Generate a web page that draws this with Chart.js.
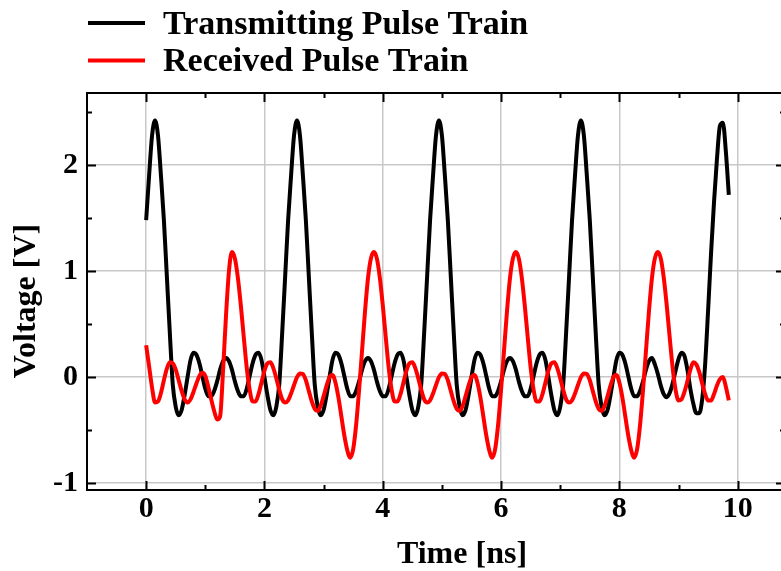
<!DOCTYPE html>
<html>
<head>
<meta charset="utf-8">
<title>Pulse trains</title>
<script src="https://cdn.jsdelivr.net/npm/chart.js@4.4.1/dist/chart.umd.min.js"></script>
<style>
    html, body { margin: 0; padding: 0; background: #fff; overflow: hidden; }
    #wrap { width: 790px; height: 571px; }
</style>
</head>
<body>
<div id="wrap"><canvas id="pulseChart" width="790" height="571"></canvas></div>
<script>
// sample times [ns], 0.05 ns apart
var timeNs = [
    0.00, 0.05, 0.10, 0.15, 0.20, 0.25, 0.30, 0.35, 0.40, 0.45,
    0.50, 0.55, 0.60, 0.65, 0.70, 0.75, 0.80, 0.85, 0.90, 0.95,
    1.00, 1.05, 1.10, 1.15, 1.20, 1.25, 1.30, 1.35, 1.40, 1.45,
    1.50, 1.55, 1.60, 1.65, 1.70, 1.75, 1.80, 1.85, 1.90, 1.95,
    2.00, 2.05, 2.10, 2.15, 2.20, 2.25, 2.30, 2.35, 2.40, 2.45,
    2.50, 2.55, 2.60, 2.65, 2.70, 2.75, 2.80, 2.85, 2.90, 2.95,
    3.00, 3.05, 3.10, 3.15, 3.20, 3.25, 3.30, 3.35, 3.40, 3.45,
    3.50, 3.55, 3.60, 3.65, 3.70, 3.75, 3.80, 3.85, 3.90, 3.95,
    4.00, 4.05, 4.10, 4.15, 4.20, 4.25, 4.30, 4.35, 4.40, 4.45,
    4.50, 4.55, 4.60, 4.65, 4.70, 4.75, 4.80, 4.85, 4.90, 4.95,
    5.00, 5.05, 5.10, 5.15, 5.20, 5.25, 5.30, 5.35, 5.40, 5.45,
    5.50, 5.55, 5.60, 5.65, 5.70, 5.75, 5.80, 5.85, 5.90, 5.95,
    6.00, 6.05, 6.10, 6.15, 6.20, 6.25, 6.30, 6.35, 6.40, 6.45,
    6.50, 6.55, 6.60, 6.65, 6.70, 6.75, 6.80, 6.85, 6.90, 6.95,
    7.00, 7.05, 7.10, 7.15, 7.20, 7.25, 7.30, 7.35, 7.40, 7.45,
    7.50, 7.55, 7.60, 7.65, 7.70, 7.75, 7.80, 7.85, 7.90, 7.95,
    8.00, 8.05, 8.10, 8.15, 8.20, 8.25, 8.30, 8.35, 8.40, 8.45,
    8.50, 8.55, 8.60, 8.65, 8.70, 8.75, 8.80, 8.85, 8.90, 8.95,
    9.00, 9.05, 9.10, 9.15, 9.20, 9.25, 9.30, 9.35, 9.40, 9.45,
    9.50, 9.55, 9.60, 9.65, 9.70, 9.75, 9.80, 9.85
];

// transmitted voltage [V]
var txVolts = [
    1.48, 1.90, 2.28, 2.42, 2.28, 1.90, 1.48, 0.95, 0.42, -0.07,
    -0.28, -0.36, -0.31, -0.17, 0.00, 0.16, 0.23, 0.21, 0.13, 0.01,
    -0.11, -0.18, -0.18, -0.13, -0.04, 0.07, 0.15, 0.18, 0.15, 0.07,
    -0.04, -0.13, -0.18, -0.18, -0.11, 0.01, 0.13, 0.21, 0.23, 0.16,
    0.00, -0.17, -0.31, -0.36, -0.28, -0.07, 0.42, 0.95, 1.48, 1.90,
    2.28, 2.42, 2.28, 1.90, 1.48, 0.95, 0.42, -0.07, -0.28, -0.36,
    -0.31, -0.17, 0.00, 0.16, 0.23, 0.21, 0.13, 0.01, -0.11, -0.18,
    -0.18, -0.13, -0.04, 0.07, 0.15, 0.18, 0.15, 0.07, -0.04, -0.13,
    -0.18, -0.18, -0.11, 0.01, 0.13, 0.21, 0.23, 0.16, 0.00, -0.17,
    -0.31, -0.36, -0.28, -0.07, 0.42, 0.95, 1.48, 1.90, 2.28, 2.42,
    2.28, 1.90, 1.48, 0.95, 0.42, -0.07, -0.28, -0.36, -0.31, -0.17,
    0.00, 0.16, 0.23, 0.21, 0.13, 0.01, -0.11, -0.18, -0.18, -0.13,
    -0.04, 0.07, 0.15, 0.18, 0.15, 0.07, -0.04, -0.13, -0.18, -0.18,
    -0.11, 0.01, 0.13, 0.21, 0.23, 0.16, 0.00, -0.17, -0.31, -0.36,
    -0.28, -0.07, 0.42, 0.95, 1.48, 1.90, 2.28, 2.42, 2.28, 1.90,
    1.48, 0.95, 0.42, -0.07, -0.28, -0.36, -0.31, -0.17, 0.00, 0.16,
    0.23, 0.21, 0.13, 0.01, -0.11, -0.18, -0.18, -0.13, -0.04, 0.07,
    0.15, 0.18, 0.12, 0.03, -0.08, -0.16, -0.19, -0.15, -0.06, 0.06,
    0.17, 0.23, 0.20, 0.07, -0.11, -0.25, -0.34, -0.34, -0.21, 0.12,
    0.63, 1.17, 1.65, 2.06, 2.37, 2.40, 2.13, 1.72
];

// received voltage [V]
var rxVolts = [
    0.30, 0.10, -0.10, -0.24, -0.23, -0.15, -0.03, 0.08, 0.14, 0.13,
    0.07, -0.03, -0.13, -0.21, -0.24, -0.21, -0.14, -0.06, 0.01, 0.04,
    0.01, -0.09, -0.21, -0.32, -0.40, -0.37, 0.06, 0.58, 1.00, 1.18,
    1.12, 0.94, 0.68, 0.38, 0.09, -0.12, -0.23, -0.23, -0.16, -0.05,
    0.06, 0.13, 0.14, 0.085, -0.01, -0.12, -0.21, -0.24, -0.22, -0.155,
    -0.075, 0.00, 0.035, 0.03, -0.03, -0.13, -0.23, -0.30, -0.32, -0.27,
    -0.18, -0.08, 0.00, 0.02, -0.05, -0.19, -0.37, -0.55, -0.69, -0.76,
    -0.68, -0.45, -0.12, 0.25, 0.62, 0.93, 1.12, 1.18, 1.12, 0.94,
    0.68, 0.38, 0.09, -0.12, -0.23, -0.23, -0.16, -0.05, 0.06, 0.13,
    0.14, 0.085, -0.01, -0.12, -0.21, -0.24, -0.22, -0.155, -0.075, 0.00,
    0.035, 0.03, -0.03, -0.13, -0.23, -0.30, -0.32, -0.27, -0.18, -0.08,
    0.00, 0.02, -0.05, -0.19, -0.37, -0.55, -0.69, -0.76, -0.68, -0.45,
    -0.12, 0.25, 0.62, 0.93, 1.12, 1.18, 1.12, 0.94, 0.68, 0.38,
    0.09, -0.12, -0.23, -0.23, -0.16, -0.05, 0.06, 0.13, 0.14, 0.085,
    -0.01, -0.12, -0.21, -0.24, -0.22, -0.155, -0.075, 0.00, 0.035, 0.03,
    -0.03, -0.13, -0.23, -0.30, -0.32, -0.27, -0.18, -0.08, 0.00, 0.02,
    -0.05, -0.19, -0.37, -0.55, -0.69, -0.76, -0.68, -0.45, -0.12, 0.25,
    0.62, 0.93, 1.12, 1.18, 1.12, 0.94, 0.68, 0.38, 0.09, -0.12,
    -0.22, -0.21, -0.14, -0.04, 0.07, 0.14, 0.12, 0.05, -0.06, -0.16,
    -0.22, -0.22, -0.16, -0.08, -0.02, 0.00, -0.09, -0.22
];

var seriesNames = ['Transmitting Pulse Train', 'Received Pulse Train'];
var xTickValues = [0, 2, 4, 6, 8, 10];
var xMinorValues = [1, 3, 5, 7, 9];
var yTickValues = [-1, 0, 1, 2];
var yMinorValues = [-0.5, 0.5, 1.5, 2.5];
var xTitle = 'Time [ns]';
var yTitle = 'Voltage [V]';

var SERIF = '"Liberation Serif", "Times New Roman", serif';

function toPoints(vals) {
    return vals.map((v, i) => ({ x: timeNs[i], y: v }));
}

// frame, inward ticks on all sides, legend and axis titles
var decorPlugin = {
    id: 'decor',
    afterDraw(chart) {
        var ctx = chart.ctx;
        var a = chart.chartArea;
        var xs = chart.scales.x, ys = chart.scales.y;
        ctx.save();
        ctx.strokeStyle = '#000';
        ctx.lineWidth = 2;
        ctx.lineCap = 'butt';

        function seg(x1, y1, x2, y2) {
            ctx.beginPath();
            ctx.moveTo(x1, y1);
            ctx.lineTo(x2, y2);
            ctx.stroke();
        }

        function xTicks(vals, len) {
            vals.forEach(v => {
                var px = Math.round(xs.getPixelForValue(v)) + 0.5;
                seg(px, a.bottom, px, a.bottom - len);
                seg(px, a.top, px, a.top + len);
            });
        }
        function yTicks(vals, len) {
            vals.forEach(v => {
                var py = Math.round(ys.getPixelForValue(v)) + 0.5;
                seg(a.left, py, a.left + len, py);
                seg(a.right, py, a.right - len, py);
            });
        }
        xTicks(xTickValues, 9);
        xTicks(xMinorValues, 5);
        yTicks(yTickValues, 9);
        yTicks(yMinorValues, 5);

        ctx.strokeRect(a.left, a.top, a.right - a.left, a.bottom - a.top);

        // legend
        ctx.font = 'bold 34px ' + SERIF;
        ctx.textAlign = 'left';
        ctx.textBaseline = 'alphabetic';
        chart.data.datasets.forEach((ds, i) => {
            var ly = 23 + i * 37.5;
            ctx.strokeStyle = ds.borderColor;
            ctx.lineWidth = 4;
            seg(88, ly, 145, ly);
            ctx.fillStyle = '#000';
            ctx.fillText(ds.label, 163, ly + 10.5);
        });

        // axis titles
        ctx.font = 'bold 32px ' + SERIF;
        ctx.fillStyle = '#000';
        ctx.textAlign = 'center';
        ctx.fillText(xTitle, 462, 563);
        ctx.translate(35, 301);
        ctx.rotate(-Math.PI / 2);
        ctx.fillText(yTitle, 0, 0);
        ctx.restore();
    }
};

var ctx = document.getElementById('pulseChart').getContext('2d');
var chart = new Chart(ctx, {
    type: 'line',
    data: {
        datasets: [
            {
                label: seriesNames[0],
                data: toPoints(txVolts),
                borderColor: '#000000',
                borderWidth: 4,
                pointRadius: 0,
                cubicInterpolationMode: 'monotone',
                order: 2
            },
            {
                label: seriesNames[1],
                data: toPoints(rxVolts),
                borderColor: '#ff0000',
                borderWidth: 4,
                pointRadius: 0,
                cubicInterpolationMode: 'monotone',
                order: 1
            }
        ]
    },
    options: {
        responsive: false,
        devicePixelRatio: 1,
        animation: false,
        events: [],
        layout: { padding: { top: 93, right: 5, left: 0, bottom: 0 } },
        plugins: {
            legend: { display: false },
            tooltip: { enabled: false }
        },
        scales: {
            x: {
                type: 'linear',
                min: -1,
                max: 10.8,
                afterBuildTicks: s => { s.ticks = xTickValues.map(v => ({ value: v })); },
                afterFit: s => { s.height = 81; },
                grid: { color: '#c8c8c8', lineWidth: 1.5, drawTicks: false },
                border: { display: false },
                ticks: {
                    padding: 1,
                    color: '#000',
                    font: { family: SERIF, size: 30, weight: 'bold' }
                }
            },
            y: {
                type: 'linear',
                min: -1.065,
                max: 2.68,
                afterBuildTicks: s => { s.ticks = yTickValues.map(v => ({ value: v })); },
                afterFit: s => { s.width = 87; },
                grid: { color: '#c8c8c8', lineWidth: 1.5, drawTicks: false },
                border: { display: false },
                ticks: {
                    padding: 9,
                    color: '#000',
                    font: { family: SERIF, size: 30, weight: 'bold' }
                }
            }
        }
    },
    plugins: [decorPlugin]
});
</script>
</body>
</html>
